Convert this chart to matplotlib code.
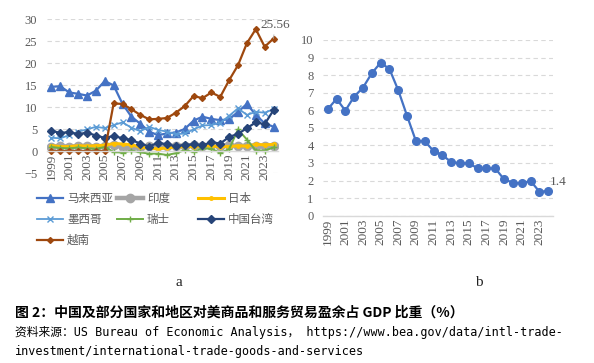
import matplotlib.pyplot as plt
from matplotlib.lines import Line2D

YEARS = list(range(1999, 2025))
TICK_YEARS = list(range(1999, 2025, 2))

# chart a: surplus with the US, % of GDP
MALAYSIA = [14.6, 14.7, 13.3, 13.0, 12.6, 13.7, 15.9, 14.9, 10.7, 7.8, 6.2, 4.4,
            3.6, 4.0, 4.2, 5.0, 6.9, 7.8, 7.3, 7.0, 7.2, 8.9, 10.7, 8.2, 6.3, 5.5]
INDIA = [1.0, 1.1, 1.0, 1.1, 1.2, 1.0, 1.2, 1.3, 0.9, 1.0, 0.8, 1.1,
         1.2, 1.1, 1.2, 1.2, 1.3, 1.2, 1.3, 1.2, 1.3, 1.1, 1.2, 1.2, 1.1, 1.2]
JAPAN = [1.2, 1.0, 1.0, 1.2, 1.1, 1.2, 1.3, 1.7, 1.6, 1.4, 0.9, 0.6,
         0.5, 0.7, 0.9, 1.0, 1.0, 1.2, 1.1, 1.0, 1.0, 1.2, 1.1, 1.5, 1.4, 1.5]
MEXICO = [3.0, 2.9, 3.6, 4.4, 4.9, 5.5, 5.2, 5.9, 6.5, 5.3, 4.5, 5.5,
          4.8, 4.4, 3.8, 4.0, 4.9, 5.8, 5.9, 6.4, 8.0, 9.7, 8.2, 8.9, 8.7, 9.5]
SWITZERLAND = [0.9, 0.7, 0.6, 0.8, 0.6, 0.5, 0.9, -0.2, -0.4, 0.1, -0.3, -0.6,
               -0.6, -0.9, -0.5, 0.2, -0.2, 0.6, 0.5, -0.4, 0.4, 4.9, 2.6, 0.1, 0.1, 0.8]
TAIWAN = [4.6, 4.1, 4.3, 3.8, 4.2, 3.5, 3.0, 3.4, 2.9, 2.5, 1.7, 1.0,
          1.9, 1.5, 1.1, 1.4, 1.5, 1.3, 2.0, 1.7, 3.2, 3.9, 5.2, 6.5, 6.1, 9.3]
VIETNAM = [0, 0, 0, 0, 0, 0, 0, 10.8, 10.7, 9.5, 8.2, 7.2,
           7.3, 7.5, 8.7, 10.2, 12.5, 12.0, 13.3, 12.3, 16.1, 19.5, 24.5, 27.7, 23.7, 25.56]

# chart b: China
CHINA = [6.06, 6.65, 5.98, 6.78, 7.29, 8.11, 8.71, 8.35, 7.14, 5.68, 4.25, 4.25,
         3.68, 3.44, 3.06, 2.98, 2.98, 2.70, 2.69, 2.69, 2.07, 1.88, 1.84, 1.98, 1.37, 1.4]

GRID = "#D9D9D9"
TEXT = "#595959"
SERIF = "Liberation Serif"
CJK = ["Noto Sans CJK SC", "DejaVu Sans"]

# name, values, color, linewidth, marker, markersize
SERIES = [
    ("马来西亚", MALAYSIA, "#4472C4", 1.6, "^", 5.5),
    ("印度", INDIA, "#A5A5A5", 3.2, "o", 6),
    ("日本", JAPAN, "#FFC000", 2.2, "o", 2.5),
    ("墨西哥", MEXICO, "#5B9BD5", 1.3, "x", 4),
    ("瑞士", SWITZERLAND, "#70AD47", 1.4, "+", 4),
    ("中国台湾", TAIWAN, "#264478", 1.6, "D", 4.5),
    ("越南", VIETNAM, "#9E480E", 1.6, "D", 3),
]


def style_axes(ax, yticks, zero_spine=False):
    # spine position first: moving the spine resets the tick styling
    if zero_spine:
        ax.spines["bottom"].set_position(("data", 0))
    ax.set_xlim(1998.5, 2024.5)
    ax.set_yticks(yticks)
    ax.set_xticks(TICK_YEARS)
    ax.set_xticklabels([str(y) for y in TICK_YEARS], rotation=90)
    for side in ("top", "right", "left"):
        ax.spines[side].set_visible(False)
    ax.spines["bottom"].set_color(GRID)
    ax.spines["bottom"].set_linewidth(1.0)
    ax.tick_params(axis="both", length=0, colors=TEXT)
    ax.tick_params(axis="y", pad=7, labelsize=9)
    ax.tick_params(axis="x", pad=2, labelsize=9.5)
    for lab in ax.get_xticklabels() + ax.get_yticklabels():
        lab.set_family(SERIF)
    ax.yaxis.grid(True, linestyle=(0, (4, 3)), color=GRID, linewidth=0.8)
    ax.set_axisbelow(True)


fig = plt.figure(figsize=(5.94, 3.63), dpi=100)

# ---- chart a ----
ax1 = fig.add_axes([47 / 594, (363 - 173) / 363, 231 / 594, 154 / 363])
for name, vals, color, lw, marker, ms in SERIES:
    ax1.plot(YEARS, vals, color=color, lw=lw, marker=marker, markersize=ms,
             markeredgewidth=1.0, label=name)
ax1.set_ylim(-5, 30)
style_axes(ax1, range(-5, 31, 5), zero_spine=True)
ax1.annotate(f"{VIETNAM[-1]:.2f}", xy=(YEARS[-1], VIETNAM[-1]), xytext=(1, 10),
             textcoords="offset points", ha="center", va="center",
             fontsize=9.5, family=SERIF, color=TEXT, annotation_clip=False,
             arrowprops=dict(arrowstyle="-", color="#A6A6A6", lw=0.6,
                             shrinkA=1, shrinkB=3))

# legend laid out in three fixed columns like the original
handles = {}
for name, vals, color, lw, marker, ms in SERIES:
    handles[name] = Line2D([], [], color=color, lw=lw, marker=marker,
                           markersize=ms, markeredgewidth=1.0)
columns = [(37, ["马来西亚", "墨西哥", "越南"]),
           (117, ["印度", "瑞士"]),
           (198, ["日本", "中国台湾"])]
for x_px, names in columns:
    leg = fig.legend([handles[n] for n in names], names, loc="upper left",
                     bbox_to_anchor=(x_px / 594, 1 - 192 / 363),
                     frameon=False, borderpad=0, borderaxespad=0,
                     handlelength=2.25, handletextpad=0.35, labelspacing=0.68,
                     prop={"family": CJK, "size": 8.3})
    for t in leg.get_texts():
        t.set_color(TEXT)

fig.text(179 / 594, 1 - 282 / 363, "a", family=SERIF, fontsize=11,
         ha="center", va="center", color="#222222")

# ---- chart b ----
ax2 = fig.add_axes([323.3 / 594, (363 - 215.7) / 363, 229.3 / 594, 175.7 / 363])
ax2.plot(YEARS, CHINA, color="#4472C4", lw=1.6, marker="o", markersize=5.5)
ax2.set_ylim(0, 10)
style_axes(ax2, range(0, 11))
ax2.annotate(f"{CHINA[-1]}", xy=(YEARS[-1], CHINA[-1]), xytext=(1, 6.5),
             textcoords="offset points", ha="left", va="center",
             fontsize=9.5, family=SERIF, color=TEXT, annotation_clip=False)

fig.text(479 / 594, 1 - 282 / 363, "b", family=SERIF, fontsize=11,
         ha="center", va="center", color="#222222")

# ---- caption ----
fig.text(15 / 594, 1 - 313 / 363,
         "图 2：中国及部分国家和地区对美商品和服务贸易盈余占 GDP 比重（%）",
         family=CJK, weight="bold", fontsize=10, va="center", color="black")
mono = ["DejaVu Sans Mono", "Noto Sans CJK SC"]
fig.text(15 / 594, 1 - 332 / 363,
         "资料来源：US Bureau of Economic Analysis， https://www.bea.gov/data/intl-trade-",
         family=mono, fontsize=8.5, va="center", color="black")
fig.text(15 / 594, 1 - 351 / 363,
         "investment/international-trade-goods-and-services",
         family=mono, fontsize=8.5, va="center", color="black")

fig.savefig("out.png", dpi=100)
